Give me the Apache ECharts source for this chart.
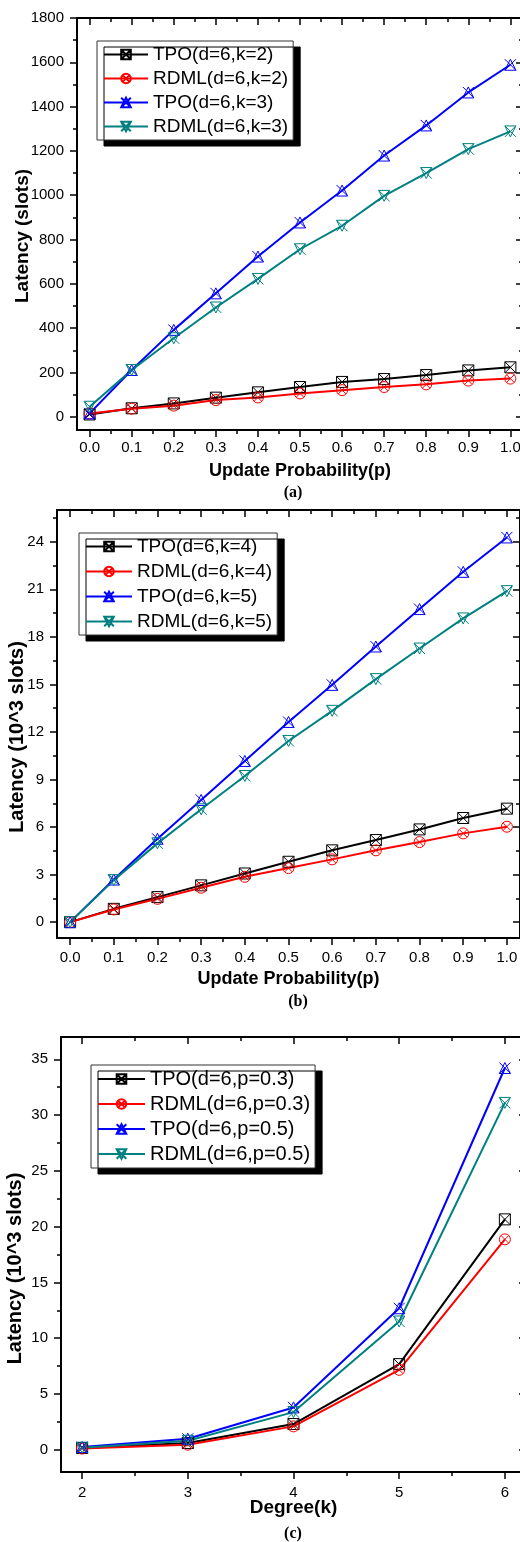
<!DOCTYPE html>
<html>
<head>
<meta charset="utf-8">
<script src="https://cdn.jsdelivr.net/npm/echarts@6/dist/echarts.min.js"></script>
<style>
html,body{margin:0;padding:0;background:#fff;overflow:hidden;}
#chart{width:540px;height:1542px;}
</style>
</head>
<body>
<div id="chart"></div>
<script>
// ---------- data ----------
const probs = [0, 0.1, 0.2, 0.3, 0.4, 0.5, 0.6, 0.7, 0.8, 0.9, 1.0];
const degrees = [2, 3, 4, 5, 6];

// panel (a): latency in slots
const tpoK2  = [10, 38, 60, 86, 110, 134, 157, 170, 188, 209, 223];
const rdmlK2 = [15, 36, 50, 75, 87, 105, 120, 134, 146, 163, 172];
const tpoK3  = [15, 211, 392, 557, 723, 877, 1021, 1179, 1315, 1464, 1589];
const rdmlK3 = [45, 211, 354, 493, 622, 756, 862, 997, 1100, 1208, 1288];

// panel (b): latency in 10^3 slots
const tpoK4  = [0, 0.84, 1.58, 2.32, 3.07, 3.81, 4.53, 5.18, 5.85, 6.57, 7.16];
const rdmlK4 = [0, 0.80, 1.47, 2.17, 2.86, 3.41, 3.96, 4.53, 5.05, 5.60, 6.02];
const tpoK5  = [0, 2.69, 5.26, 7.71, 10.17, 12.63, 14.97, 17.39, 19.75, 22.1, 24.27];
const rdmlK5 = [0, 2.65, 4.97, 7.12, 9.22, 11.43, 13.33, 15.33, 17.26, 19.16, 20.88];

// panel (c): latency in 10^3 slots vs degree
const tpoP3  = [0.15, 0.6, 2.3, 7.67, 20.65];
const rdmlP3 = [0.1, 0.45, 2.09, 7.16, 18.86];
const tpoP5  = [0.24, 0.98, 3.79, 12.68, 34.22];
const rdmlP5 = [0.18, 0.8, 3.37, 11.49, 31.09];

// tick values
const probTicks = [0, 0.1, 0.2, 0.3, 0.4, 0.5, 0.6, 0.7, 0.8, 0.9, 1.0];
const probMinor = [0.05, 0.15, 0.25, 0.35, 0.45, 0.55, 0.65, 0.75, 0.85, 0.95];
const yTicksA = [0, 200, 400, 600, 800, 1000, 1200, 1400, 1600, 1800];
const yMinorA = [100, 300, 500, 700, 900, 1100, 1300, 1500, 1700];
const yTicksB = [0, 3, 6, 9, 12, 15, 18, 21, 24];
const yMinorB = [1.5, 4.5, 7.5, 10.5, 13.5, 16.5, 19.5, 22.5, 25.5];
const degTicks = [2, 3, 4, 5, 6];
const degMinor = [2.5, 3.5, 4.5, 5.5];
const yTicksC = [0, 5, 10, 15, 20, 25, 30, 35];
const yMinorC = [2.5, 7.5, 12.5, 17.5, 22.5, 27.5, 32.5];

// ---------- styles ----------
const SANS = '"Liberation Sans", Arial, sans-serif';
const SERIF = '"Liberation Serif", "Times New Roman", serif';
const BLACK = '#000000', RED = '#ff0000', BLUE = '#0000ff', TEAL = '#008080';
const SYM_SQX = 'path://M0,0L10,0L10,10L0,10Z M0,0L10,10 M10,0L0,10';
const SYM_CIRX = 'path://M0,5A5,5,0,1,1,10,5A5,5,0,1,1,0,5Z M1.5,1.5L8.5,8.5 M8.5,1.5L1.5,8.5';
const SYM_TUP = 'path://M0,0L10,10 M10,0L0,10 M5,0L10,10L0,10Z';
const SYM_TDN = 'path://M0,0L10,10 M10,0L0,10 M0,0L10,0L5,10Z';

function axisGroup(dim, gi, range, majors, minors, fmt, name, nameGap, nameSize, labelMargin, namePad) {
  const mainPos = dim === 'x' ? 'bottom' : 'left';
  const oppPos = dim === 'x' ? 'top' : 'right';
  const base = {
    type: 'value', gridIndex: gi, min: range[0], max: range[1],
    splitLine: { show: false }, silent: true,
  };
  const line = { show: true, onZero: false, lineStyle: { color: '#000', width: 2 } };
  const noLine = { show: false, onZero: false };
  const tickStyle = { color: '#000', width: 1.5 };
  return [
    Object.assign({}, base, {
      position: mainPos, axisLine: line,
      axisTick: { show: true, customValues: majors, length: 7, inside: false, lineStyle: tickStyle },
      axisLabel: { show: true, customValues: majors, formatter: fmt, margin: labelMargin,
        color: '#000', fontFamily: SANS, fontSize: 15 },
      name: name, nameLocation: 'middle', nameGap: nameGap, nameMoveOverlap: false,
      nameTextStyle: { fontFamily: SANS, fontWeight: 'bold', fontSize: nameSize, color: '#000', padding: namePad || 0 },
    }),
    Object.assign({}, base, {
      position: mainPos, axisLine: noLine,
      axisTick: { show: true, customValues: minors, length: 4, inside: false, lineStyle: tickStyle },
      axisLabel: { show: false },
    }),
    Object.assign({}, base, {
      position: oppPos, axisLine: line,
      axisTick: { show: true, customValues: majors, length: 7, inside: true, lineStyle: tickStyle },
      axisLabel: { show: false },
    }),
    Object.assign({}, base, {
      position: oppPos, axisLine: noLine,
      axisTick: { show: true, customValues: minors, length: 4, inside: true, lineStyle: tickStyle },
      axisLabel: { show: false },
    }),
  ];
}

function mkSeries(name, xs, ys, color, symbol, gi) {
  return {
    type: 'line', name: name,
    xAxisIndex: gi * 4, yAxisIndex: gi * 4,
    data: xs.map((x, i) => [x, ys[i]]),
    symbol: symbol, symbolSize: 11, showAllSymbol: true,
    lineStyle: { color: color, width: 2 },
    itemStyle: { color: 'rgba(255,255,255,0)', borderColor: color, borderWidth: 1 },
    emphasis: { disabled: true },
    animation: false,
  };
}

function mkLegend(names, left, top, fontSize, itemWidth, itemGap) {
  return {
    data: names, orient: 'vertical', left: left, top: top,
    itemWidth: itemWidth, itemHeight: 12, itemGap: itemGap,
    padding: [3, 5, 3, 6],
    backgroundColor: '#ffffff', borderColor: '#333', borderWidth: 1,
    shadowColor: '#000', shadowBlur: 0, shadowOffsetX: 7, shadowOffsetY: 6,
    selectedMode: false,
    textStyle: { fontFamily: SANS, fontSize: fontSize, color: '#000', lineHeight: fontSize + 2 },
  };
}

const fmt1 = v => v.toFixed(1);
const fmt0 = v => String(v);

const xAxes = [].concat(
  axisGroup('x', 0, [-0.03, 1.03], probTicks, probMinor, fmt1, 'Update Probability(p)', 32, 18, 10),
  axisGroup('x', 1, [-0.03, 1.03], probTicks, probMinor, fmt1, 'Update Probability(p)', 32, 18, 12),
  axisGroup('x', 2, [1.8, 6.2], degTicks, degMinor, fmt0, 'Degree(k)', 26, 19, 13)
);
const yAxes = [].concat(
  axisGroup('y', 0, [-60, 1800], yTicksA, yMinorA, fmt0, 'Latency (slots)', 45, 19, 13, [0, 24, 0, 0]),
  axisGroup('y', 1, [-1, 26], yTicksB, yMinorB, fmt0, 'Latency (10^3 slots)', 30, 20, 13, [0, 26, 0, 0]),
  axisGroup('y', 2, [-2, 37], yTicksC, yMinorC, fmt0, 'Latency (10^3 slots)', 36, 20, 13, [0, 28, 0, 0])
);

const option = {
  backgroundColor: '#ffffff',
  animation: false,
  grid: [
    { left: 77, top: 18, width: 446, height: 412, outerBoundsMode: 'none' },
    { left: 57, top: 510, width: 463, height: 428, outerBoundsMode: 'none' },
    { left: 61, top: 1037, width: 465, height: 435, outerBoundsMode: 'none' },
  ],
  xAxis: xAxes,
  yAxis: yAxes,
  legend: [
    mkLegend(['TPO(d=6,k=2)', 'RDML(d=6,k=2)', 'TPO(d=6,k=3)', 'RDML(d=6,k=3)'], 97, 41, 19, 44, 3),
    mkLegend(['TPO(d=6,k=4)', 'RDML(d=6,k=4)', 'TPO(d=6,k=5)', 'RDML(d=6,k=5)'], 79, 533, 19, 46, 4),
    mkLegend(['TPO(d=6,p=0.3)', 'RDML(d=6,p=0.3)', 'TPO(d=6,p=0.5)', 'RDML(d=6,p=0.5)'], 91, 1065, 20, 47, 3),
  ],
  series: [
    mkSeries('TPO(d=6,k=2)', probs, tpoK2, BLACK, SYM_SQX, 0),
    mkSeries('RDML(d=6,k=2)', probs, rdmlK2, RED, SYM_CIRX, 0),
    mkSeries('TPO(d=6,k=3)', probs, tpoK3, BLUE, SYM_TUP, 0),
    mkSeries('RDML(d=6,k=3)', probs, rdmlK3, TEAL, SYM_TDN, 0),
    mkSeries('TPO(d=6,k=4)', probs, tpoK4, BLACK, SYM_SQX, 1),
    mkSeries('RDML(d=6,k=4)', probs, rdmlK4, RED, SYM_CIRX, 1),
    mkSeries('TPO(d=6,k=5)', probs, tpoK5, BLUE, SYM_TUP, 1),
    mkSeries('RDML(d=6,k=5)', probs, rdmlK5, TEAL, SYM_TDN, 1),
    mkSeries('TPO(d=6,p=0.3)', degrees, tpoP3, BLACK, SYM_SQX, 2),
    mkSeries('RDML(d=6,p=0.3)', degrees, rdmlP3, RED, SYM_CIRX, 2),
    mkSeries('TPO(d=6,p=0.5)', degrees, tpoP5, BLUE, SYM_TUP, 2),
    mkSeries('RDML(d=6,p=0.5)', degrees, rdmlP5, TEAL, SYM_TDN, 2),
  ],
  graphic: [
    { type: 'text', x: 293, y: 493, style: { text: '(a)', font: 'bold 16px ' + SERIF, fill: '#000', align: 'center', verticalAlign: 'middle' } },
    { type: 'text', x: 298, y: 1002, style: { text: '(b)', font: 'bold 16px ' + SERIF, fill: '#000', align: 'center', verticalAlign: 'middle' } },
    { type: 'text', x: 293, y: 1534, style: { text: '(c)', font: 'bold 16px ' + SERIF, fill: '#000', align: 'center', verticalAlign: 'middle' } },
  ],
};

const chart = echarts.init(document.getElementById('chart'), null, { renderer: 'canvas' });
chart.setOption(option);
</script>
</body>
</html>
